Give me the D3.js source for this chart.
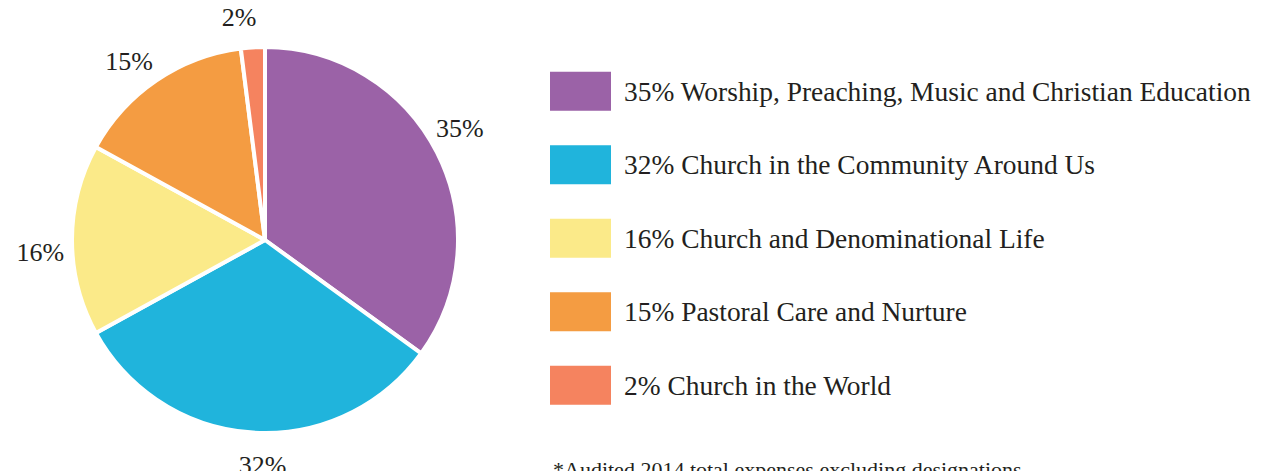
<!DOCTYPE html>
<html>
<head>
<meta charset="utf-8">
<script src="https://cdn.jsdelivr.net/npm/d3@7"></script>
<style>
  body { margin: 0; background: #fff; }
</style>
</head>
<body>
<div id="chart"></div>
<script>
const categories = [
  "Worship, Preaching, Music and Christian Education",
  "Church in the Community Around Us",
  "Church and Denominational Life",
  "Pastoral Care and Nurture",
  "Church in the World"
];
const values = [35, 32, 16, 15, 2];
const colors = ["#9b62a7", "#20b4dc", "#fbea89", "#f49c42", "#f5835f"];
const footnote = "*Audited 2014 total expenses excluding designations";

const width = 1264, height = 471;
const cx = 265, cy = 240, radius = 193;
const serif = "'Liberation Serif', 'DejaVu Serif', serif";

const svg = d3.select("#chart").append("svg")
  .attr("width", width)
  .attr("height", height)
  .attr("font-family", serif)
  .style("font-family", serif);

// pie, clockwise from 12 o'clock
const pie = d3.pie().sort(null).value(d => d);
const arcs = pie(values);
const arc = d3.arc().innerRadius(0).outerRadius(radius);
const labelArc = d3.arc().innerRadius(225).outerRadius(225);
const labelShift = -3 * Math.PI / 180; // labels sit a touch anticlockwise of the mid-angle

const g = svg.append("g").attr("transform", `translate(${cx},${cy})`);

g.selectAll("path")
  .data(arcs)
  .enter()
  .append("path")
  .attr("d", arc)
  .attr("fill", (d, i) => colors[i])
  .attr("stroke", "#fff")
  .attr("stroke-width", 4)
  .attr("stroke-linejoin", "round");

const shifted = d => ({ startAngle: d.startAngle + labelShift, endAngle: d.endAngle + labelShift });

g.selectAll("text.pct")
  .data(arcs)
  .enter()
  .append("text")
  .attr("class", "pct")
  .attr("x", d => labelArc.centroid(shifted(d))[0])
  .attr("y", d => labelArc.centroid(shifted(d))[1])
  .attr("text-anchor", "middle")
  .attr("dy", "0.35em")
  .attr("fill", "#231f20")
  .style("font-size", "26px")
  .text(d => d.data + "%");

// legend
const yLegend = d3.scaleBand()
  .domain(categories)
  .range([54.5, 422]);

const rows = svg.append("g").selectAll("g")
  .data(categories)
  .enter()
  .append("g")
  .attr("transform", d => `translate(550,${yLegend(d) + yLegend.bandwidth() / 2})`);

rows.append("rect")
  .attr("y", -19.5)
  .attr("width", 61)
  .attr("height", 39)
  .attr("fill", (d, i) => colors[i]);

const labels = rows.append("text")
  .attr("x", 74)
  .attr("dy", "0.35em")
  .attr("fill", "#231f20")
  .style("font-size", "25px")
  .text((d, i) => values[i] + "% " + d);

// fit font size so the longest label spans like the reference
const w0 = labels.node().getComputedTextLength();
labels.style("font-size", (25 * 627 / w0) + "px");

svg.append("text")
  .attr("x", 553)
  .attr("y", 477)
  .attr("fill", "#231f20")
  .style("font-size", "22px")
  .text(footnote);
</script>
</body>
</html>
